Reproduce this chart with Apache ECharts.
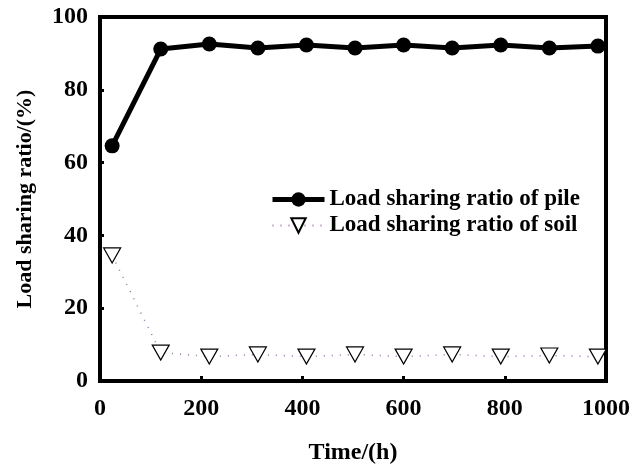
<!DOCTYPE html>
<html>
<head>
<meta charset="utf-8">
<script src="https://cdn.jsdelivr.net/npm/echarts@6/dist/echarts.min.js"></script>
<style>
  html, body { margin: 0; padding: 0; background: #fff; }
  #chart { width: 633px; height: 473px; }
</style>
</head>
<body>
<div id="chart"></div>
<script>
var timeH = [24, 120, 216, 312, 408, 504, 600, 696, 792, 888, 984];
var pileRatio = [64.6, 91.2, 92.6, 91.5, 92.3, 91.5, 92.3, 91.5, 92.3, 91.5, 92.0];
var soilRatio = [34.5, 7.8, 6.7, 7.3, 6.7, 7.3, 6.7, 7.3, 6.7, 7.0, 6.7];
var xTicks = [0, 200, 400, 600, 800, 1000];
var yTicks = [0, 20, 40, 60, 80, 100];

var font = "'Liberation Serif', 'Times New Roman', serif";

function pairs(xs, ys) {
  return xs.map(function (x, i) { return [x, ys[i]]; });
}

var myChart = echarts.init(document.getElementById("chart"));
var option = {
  animation: false,
  backgroundColor: "#fff",
  textStyle: { fontFamily: font, fontWeight: "bold", color: "#000" },
  grid: {
    left: 100,
    right: 25,
    top: 17,
    bottom: 92,
    show: true,
    borderColor: "#000",
    borderWidth: 4,
    backgroundColor: "transparent"
  },
  legend: {
    orient: "vertical",
    left: 265,
    top: 183,
    itemWidth: 52,
    itemHeight: 18,
    itemGap: 3,
    textStyle: { fontFamily: font, fontWeight: "bold", fontSize: 23, color: "#000" },
    data: [
      { name: "Load sharing ratio of pile", lineStyle: { width: 5, color: "#000" } },
      { name: "Load sharing ratio of soil" }
    ]
  },
  xAxis: {
    type: "value",
    min: xTicks[0],
    max: xTicks[xTicks.length - 1],
    interval: 200,
    name: "Time/(h)",
    nameLocation: "middle",
    nameGap: 60,
    nameTextStyle: { fontFamily: font, fontWeight: "bold", fontSize: 24, color: "#000" },
    axisLine: { lineStyle: { color: "#000", width: 4 } },
    axisTick: { inside: true, length: 5, lineStyle: { color: "#000", width: 3 } },
    axisLabel: {
      margin: 16, fontFamily: font, fontWeight: "bold", fontSize: 24, color: "#000",
      formatter: function (v) { return String(v); }
    },
    splitLine: { show: false }
  },
  yAxis: {
    type: "value",
    min: yTicks[0],
    max: yTicks[yTicks.length - 1],
    interval: 20,
    name: "Load sharing ratio/(%)",
    nameLocation: "middle",
    nameGap: 64,
    nameTextStyle: { fontFamily: font, fontWeight: "bold", fontSize: 22, color: "#000" },
    axisLine: { lineStyle: { color: "#000", width: 4 } },
    axisTick: { inside: true, length: 4, lineStyle: { color: "#000", width: 3 } },
    axisLabel: { margin: 12, fontFamily: font, fontWeight: "bold", fontSize: 24, color: "#000" },
    splitLine: { show: false }
  },
  series: [
    {
      name: "Load sharing ratio of pile",
      type: "line",
      data: pairs(timeH, pileRatio),
      symbol: "circle",
      symbolSize: 15,
      itemStyle: { color: "#000" },
      lineStyle: { color: "#000", width: 5 },
      z: 3
    },
    {
      name: "Load sharing ratio of soil",
      type: "line",
      data: pairs(timeH, soilRatio),
      symbol: "triangle",
      symbolRotate: 180,
      symbolSize: [17, 15],
      itemStyle: { color: "#fff", borderColor: "#000", borderWidth: 1.2 },
      lineStyle: { color: "#a06ab0", width: 1.5, type: [1, 7] },
      z: 2
    }
  ]
};
option && myChart.setOption(option);
</script>
</body>
</html>
